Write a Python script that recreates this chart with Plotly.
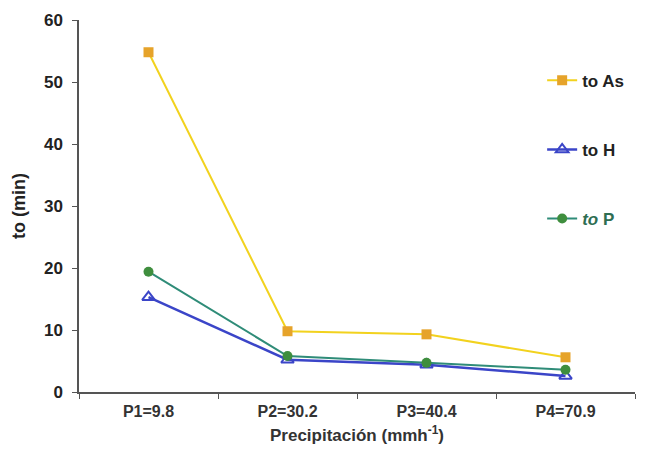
import plotly.graph_objects as go

categories = ["P1=9.8", "P2=30.2", "P3=40.4", "P4=70.9"]
to_as = [54.8, 9.8, 9.3, 5.6]
to_h = [15.3, 5.2, 4.4, 2.6]
to_p = [19.4, 5.8, 4.7, 3.6]

fig = go.Figure()
fig.add_trace(go.Scatter(x=categories, y=to_as, name="to As", mode="lines+markers",
                         line=dict(color="#F2D21E", width=2),
                         marker=dict(symbol="square", size=10, color="#E6A32A"),
                         legendgroup="a"))
fig.add_trace(go.Scatter(x=categories, y=to_h, name="to H", mode="lines+markers",
                         line=dict(color="#3B45C8", width=2.5),
                         marker=dict(symbol="triangle-up-open", size=11, color="#3B45C8",
                                     line=dict(width=2)),
                         legendgroup="b"))
fig.add_trace(go.Scatter(x=categories, y=to_p,
                         name="<span style='color:#2E6E52'><i>to</i> P</span>",
                         mode="lines+markers",
                         line=dict(color="#2F8C78", width=2),
                         marker=dict(symbol="circle", size=10, color="#3F8E3E"),
                         legendgroup="c"))

fig.update_layout(
    width=637, height=442,
    margin=dict(l=71, r=10, t=12, b=58),
    paper_bgcolor="white", plot_bgcolor="white",
    font=dict(family="Liberation Sans, Arial, sans-serif", color="#222", size=15),
    showlegend=True,
    legend=dict(x=0.833, xanchor="left", y=0.885, yanchor="top",
                tracegroupgap=44, bgcolor="rgba(0,0,0,0)",
                font=dict(size=17, weight="bold", color="#222")),
    xaxis=dict(type="category", showgrid=False, showline=True, linecolor="#555",
               linewidth=1.5, ticks="outside", tickson="boundaries", ticklen=5,
               tickcolor="#555", ticklabelstandoff=4, automargin=False,
               tickfont=dict(size=16, weight="bold", color="#333"),
               title=dict(text="Precipitación (mmh<sup>-1</sup>)", standoff=10,
                          font=dict(size=17, weight="bold", color="#333")),
               range=[-0.5, 3.5]),
    yaxis=dict(range=[0, 60], dtick=10, showgrid=False, showline=True, linecolor="#555",
               linewidth=1.5, ticks="outside", ticklen=5, tickcolor="#555",
               zeroline=False, ticklabelstandoff=6, automargin=False,
               tickfont=dict(size=17, weight="bold", color="#222"),
               title=dict(text="to (min)", standoff=14,
                          font=dict(size=18, weight="bold", color="#222"))),
)
fig.write_html("out.html")
